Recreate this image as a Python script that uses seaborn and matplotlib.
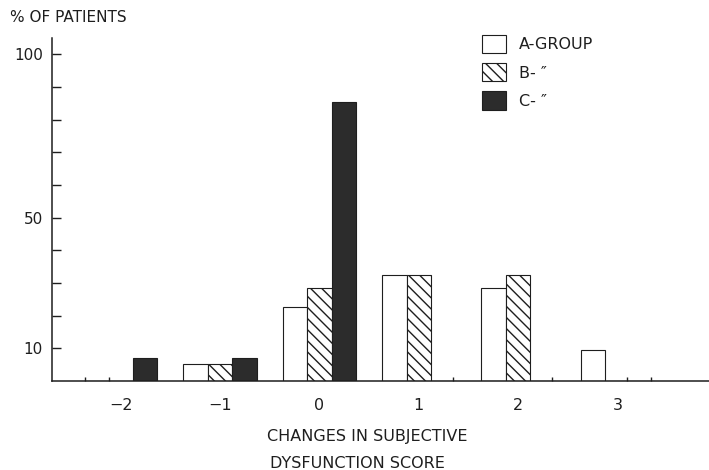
import matplotlib
matplotlib.use("Agg")
import matplotlib.pyplot as plt
import seaborn as sns
import pandas as pd

# ---- data ----
scores = [-2, -1, 0, 1, 2, 3]
score_labels = ["\u22122", "\u22121", "0", "1", "2", "3"]
groups = ["A-GROUP", "B- \u2033", "C- \u2033"]
a_pct = [0, 5.2, 22.6, 32.6, 28.5, 9.6]
b_pct = [0, 5.2, 28.6, 32.6, 32.4, 0]
c_pct = [7.0, 7.0, 85.4, 0, 0, 0]
y_ticks = [10, 20, 30, 40, 50, 60, 70, 80, 90, 100]
y_ticklabels = ["10", "", "", "", "50", "", "", "", "", "100"]

df = pd.DataFrame({
    "score": scores * 3,
    "pct": a_pct + b_pct + c_pct,
    "group": [g for g in groups for _ in scores],
})

ink = "#1e1e1e"
dark = "#2c2c2c"

sns.set_style("white")
plt.rcParams["font.family"] = ["DejaVu Sans"]
plt.rcParams["hatch.linewidth"] = 1.0
plt.rcParams["hatch.color"] = ink
plt.rcParams["text.color"] = ink

fig = plt.figure(figsize=(7.09, 4.70), dpi=100)
ax = fig.add_axes([52 / 709, 89 / 470, 657 / 709, 343 / 470])

sns.barplot(data=df, x="score", y="pct", hue="group", order=scores,
            hue_order=groups, palette=["white", "white", dark], width=0.74,
            saturation=1, edgecolor=ink, linewidth=0.8, errorbar=None,
            ax=ax, legend=False)

for p in ax.containers[1]:
    p.set_hatch("\\\\\\")

ax.set_xlim(-0.69, 5.92)
ax.set_ylim(0, 105)
ax.set_yticks(y_ticks)
ax.set_yticklabels(y_ticklabels)
ax.set_xticks(range(len(scores)))
ax.set_xticklabels(score_labels)
ax.set_xlabel("")
ax.set_ylabel("")

# small marks on the baseline
ax.set_xticks([-0.36, -0.12, 3.34, 4.34, 5.10, 5.335], minor=True)

sns.despine(ax=ax)
for s in ["left", "bottom"]:
    ax.spines[s].set_color(ink)
    ax.spines[s].set_linewidth(1.1)

ax.tick_params(axis="y", which="major", left=True, direction="in", length=6.5,
               width=1, colors=ink, labelsize=11, pad=6.7)
ax.tick_params(axis="x", which="major", bottom=True, length=0, labelsize=11.5,
               pad=12, colors=ink)
ax.tick_params(axis="x", which="minor", bottom=True, direction="in", length=3,
               width=1, colors=ink)

ax.legend(handles=ax.containers, labels=groups, loc="upper left",
          bbox_to_anchor=(482 / 709, 1 - 35 / 470), bbox_transform=fig.transFigure,
          frameon=False, borderpad=0, borderaxespad=0, fontsize=11.5,
          handlelength=1.5, handleheight=1.375, labelspacing=0.625,
          handletextpad=0.8)

fig.text(10 / 709, 1 - 17 / 470, "% OF PATIENTS", ha="left", va="center",
         fontsize=11, color=ink)
fig.text(367 / 709, 1 - 437 / 470, "CHANGES IN SUBJECTIVE", ha="center",
         va="center", fontsize=11.5, color=ink)
fig.text(357 / 709, 1 - 463 / 470, "DYSFUNCTION SCORE", ha="center",
         va="center", fontsize=11.5, color=ink)

fig.savefig("out.png", dpi=100)
